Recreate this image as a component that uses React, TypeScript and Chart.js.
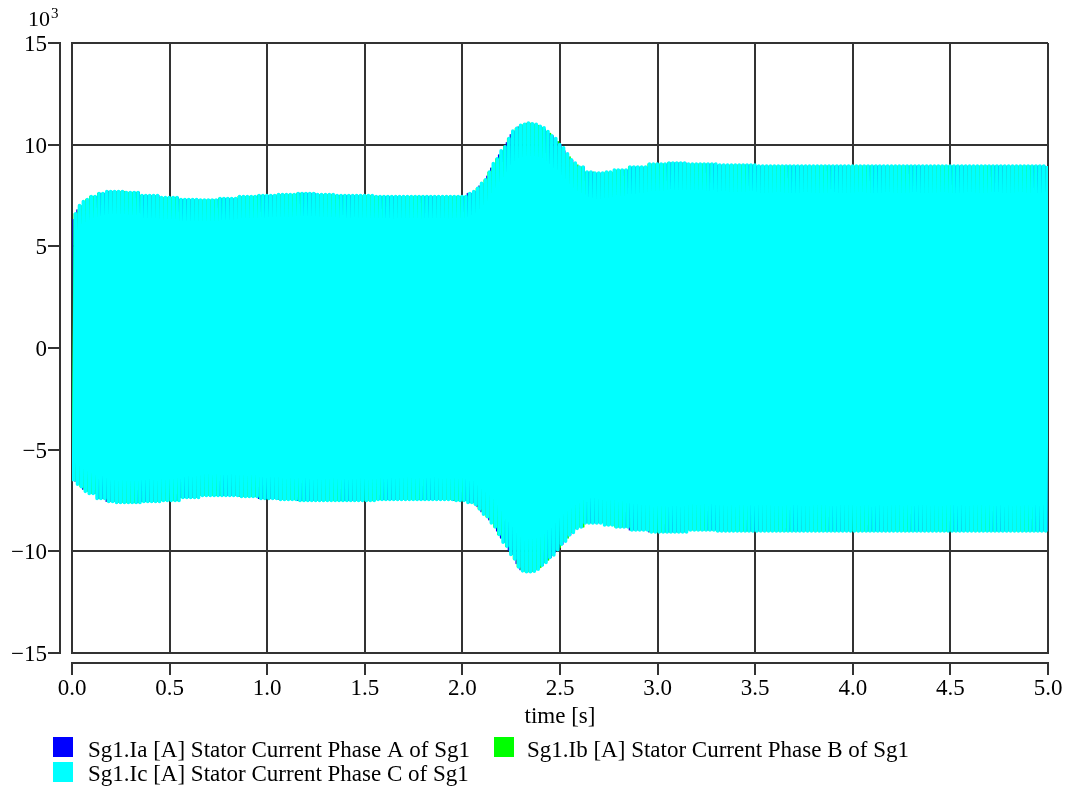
import { useEffect, useRef } from "react";
import { Chart, registerables } from "chart.js";

Chart.register(...registerables);

// Envelope of the stator current (kA), traced at these instants (s)
const envelopeTimes = [
  0, 0.015, 0.03, 0.045, 0.06, 0.075, 0.1, 0.15, 0.2, 0.25, 0.3, 0.4, 0.5, 0.6,
  0.7, 0.8, 0.9, 1.0, 1.1, 1.2, 1.3, 1.4, 1.5, 1.6, 1.7, 1.8, 1.9, 2.0,
  2.05, 2.0625, 2.075, 2.0875, 2.1, 2.1125, 2.125, 2.1375, 2.15, 2.1625, 2.175,
  2.1875, 2.2, 2.2125, 2.225, 2.2375, 2.25, 2.2625, 2.275, 2.2875, 2.3, 2.3125,
  2.325, 2.3375, 2.35, 2.3625, 2.375, 2.3875, 2.4, 2.4125, 2.425, 2.4375, 2.45,
  2.4625, 2.475, 2.4875, 2.5, 2.5125, 2.525, 2.5375, 2.55, 2.5625, 2.575,
  2.5875, 2.6, 2.65, 2.7, 2.75, 2.8, 2.9, 3.0, 3.1, 3.2, 3.4, 3.6, 3.8, 4.0,
  4.2, 4.4, 4.6, 4.8, 5.0,
];
const upperEnvelope = [
  6.35, 6.6, 6.8, 7.0, 7.2, 7.3, 7.45, 7.6, 7.7, 7.7, 7.65, 7.5, 7.4, 7.3,
  7.28, 7.35, 7.45, 7.5, 7.55, 7.6, 7.55, 7.5, 7.5, 7.45, 7.45, 7.45, 7.45, 7.45,
  7.6, 7.7, 7.85, 7.97, 8.1, 8.27, 8.45, 8.65, 8.85, 9.07, 9.3,
  9.5, 9.7, 9.9, 10.1, 10.3, 10.5, 10.67, 10.8, 10.88, 10.95, 11.0,
  11.05, 11.06, 11.05, 11.03, 11.0, 10.95, 10.9, 10.83, 10.75, 10.65, 10.55,
  10.43, 10.3, 10.15, 10.0, 9.85, 9.7, 9.55, 9.4, 9.25, 9.1,
  9.0, 8.9, 8.65, 8.6, 8.65, 8.75, 8.9, 9.05, 9.1, 9.05, 9.0, 8.95, 8.95, 8.95,
  8.95, 8.95, 8.95, 8.95, 8.95,
];
const lowerEnvelope = [
  -6.4, -6.55, -6.7, -6.82, -6.95, -7.05, -7.15, -7.4, -7.55, -7.6, -7.6, -7.55,
  -7.5, -7.35, -7.25, -7.25, -7.3, -7.4, -7.45, -7.5, -7.5, -7.5, -7.5, -7.45,
  -7.45, -7.45, -7.45, -7.5,
  -7.6, -7.7, -7.8, -7.92, -8.05, -8.17, -8.3, -8.45, -8.6, -8.8, -9.0,
  -9.17, -9.35, -9.55, -9.75, -9.95, -10.15, -10.38, -10.6, -10.77, -10.9,
  -10.96, -11.0, -11.01, -11.0, -10.98, -10.95, -10.88, -10.8, -10.68, -10.55,
  -10.43, -10.3, -10.18, -10.05, -9.92, -9.8, -9.65, -9.5, -9.35, -9.2, -9.07,
  -8.95, -8.87, -8.8, -8.6, -8.6, -8.7, -8.8, -8.95, -9.05, -9.05, -8.95, -9.0,
  -9.0, -9.0, -9.0, -9.0, -9.0, -9.0, -9.0, -9.0,
];

const seriesLabels = [
  "Sg1.Ia [A] Stator Current Phase A of Sg1",
  "Sg1.Ib [A] Stator Current Phase B of Sg1",
  "Sg1.Ic [A] Stator Current Phase C of Sg1",
];
const seriesColors = ["#0000ff", "#00ff00", "#00ffff"];
const seriesWidths = [1.2, 1.4, 3.6];
const phaseShiftCycles = [0, 1 / 3, 2 / 3];
const gridFrequencyHz = 50;
const simulationEnd = 5.0;

const FONT = "'Liberation Serif', 'Times New Roman', serif";
const AXIS_COLOR = "#333";

// value of the traced envelope sample nearest to t
function envelopeAt(values: number[], t: number): number {
  let best = 0;
  for (let i = 1; i < envelopeTimes.length; i++) {
    if (Math.abs(envelopeTimes[i] - t) < Math.abs(envelopeTimes[best] - t)) best = i;
  }
  return values[best];
}

// Half-cycle crest points of one phase: alternating positive and negative peaks
function phasePeaks(shift: number) {
  const half = 1 / (2 * gridFrequencyHz);
  const pts: { x: number; y: number }[] = [];
  let k = 0;
  for (let t = half / 2 + shift * 2 * half - 2 * half; t <= simulationEnd; t += half, k++) {
    if (t < 0) continue;
    const positive = k % 2 === 0;
    pts.push({ x: t, y: envelopeAt(positive ? upperEnvelope : lowerEnvelope, t) });
  }
  return pts;
}

const frameDecor = {
  id: "frameDecor",
  afterDraw(chart: any) {
    const { ctx, chartArea: a, scales } = chart;
    const xs = scales.x;
    const ys = scales.y;
    ctx.save();
    ctx.strokeStyle = AXIS_COLOR;
    ctx.lineWidth = 2;

    // detached y axis with outward ticks
    const yAxisX = Math.round(a.left - 12);
    ctx.beginPath();
    ctx.moveTo(yAxisX, a.top - 1);
    ctx.lineTo(yAxisX, a.bottom + 1);
    ys.ticks.forEach((tk: any) => {
      const py = Math.round(ys.getPixelForValue(tk.value));
      ctx.moveTo(yAxisX + 1, py);
      ctx.lineTo(yAxisX - 12, py);
    });
    ctx.stroke();

    // detached x axis with outward ticks
    const xAxisY = Math.round(a.bottom + 10);
    ctx.beginPath();
    ctx.moveTo(a.left - 1, xAxisY);
    ctx.lineTo(a.right + 1, xAxisY);
    xs.ticks.forEach((tk: any) => {
      const px = Math.round(xs.getPixelForValue(tk.value));
      ctx.moveTo(px, xAxisY - 1);
      ctx.lineTo(px, xAxisY + 12);
    });
    ctx.stroke();

    ctx.fillStyle = "#000";
    // axis title
    ctx.font = `23px ${FONT}`;
    ctx.textAlign = "center";
    ctx.textBaseline = "alphabetic";
    ctx.fillText("time [s]", (a.left + a.right) / 2, 723);

    // value multiplier
    ctx.textAlign = "left";
    ctx.font = `22px ${FONT}`;
    ctx.fillText("10", 28, 26);
    ctx.font = `15px ${FONT}`;
    ctx.fillText("3", 51, 18);

    // legend
    const items = [
      { sx: 53, sy: 737, tx: 88, by: 757, i: 0 },
      { sx: 494, sy: 737, tx: 527, by: 757, i: 1 },
      { sx: 53, sy: 762, tx: 88, by: 781, i: 2 },
    ];
    ctx.font = `23px ${FONT}`;
    items.forEach((it) => {
      ctx.fillStyle = seriesColors[it.i];
      ctx.fillRect(it.sx, it.sy, 20, 20);
      ctx.fillStyle = "#000";
      ctx.fillText(seriesLabels[it.i], it.tx, it.by);
    });
    ctx.restore();
  },
};

export default function App() {
  const canvasRef = useRef<HTMLCanvasElement | null>(null);

  useEffect(() => {
    const canvas = canvasRef.current;
    if (!canvas) return;
    const datasets = seriesLabels.map((label, i) => ({
      label,
      data: phasePeaks(phaseShiftCycles[i]),
      borderColor: seriesColors[i],
      backgroundColor: seriesColors[i],
      borderWidth: seriesWidths[i],
      borderJoinStyle: "round" as const,
      pointRadius: 0,
      fill: false,
      tension: 0,
      order: 3 - i,
    }));

    const chart = new Chart(canvas, {
      type: "line",
      data: { datasets },
      options: {
        animation: false,
        responsive: false,
        parsing: false,
        normalized: true,
        events: [],
        layout: { padding: { top: 43, right: 22, bottom: 0, left: 0 } },
        plugins: { legend: { display: false }, tooltip: { enabled: false } },
        scales: {
          x: {
            type: "linear",
            min: 0,
            max: 5,
            afterFit: (s: any) => {
              s.height = 134;
              s.paddingLeft = 0;
              s.paddingRight = 0;
            },
            ticks: {
              stepSize: 0.5,
              padding: 22,
              color: "#000",
              font: { family: FONT, size: 23 },
              maxRotation: 0,
              autoSkip: false,
              callback: (v: any) => Number(v).toFixed(1),
            },
            grid: { color: AXIS_COLOR, lineWidth: 2, drawTicks: false },
            border: { display: true, color: AXIS_COLOR, width: 2 },
          },
          y: {
            type: "linear",
            min: -15,
            max: 15,
            afterFit: (s: any) => {
              s.width = 72;
              s.paddingTop = 0;
              s.paddingBottom = 0;
            },
            ticks: {
              stepSize: 5,
              padding: 25,
              labelOffset: 2,
              color: "#000",
              font: { family: FONT, size: 23 },
              callback: (v: any) =>
                Number(v) < 0 ? "\u2212" + Math.abs(Number(v)) : String(v),
            },
            grid: { color: AXIS_COLOR, lineWidth: 2, drawTicks: false },
            border: { display: true, color: AXIS_COLOR, width: 2 },
          },
        },
      },
      plugins: [frameDecor],
    });
    return () => chart.destroy();
  }, []);

  return (
    <div style={{ position: "fixed", left: 0, top: 0, width: 1070, height: 787, background: "#fff" }}>
      <canvas ref={canvasRef} width={1070} height={787} style={{ display: "block" }} />
    </div>
  );
}
